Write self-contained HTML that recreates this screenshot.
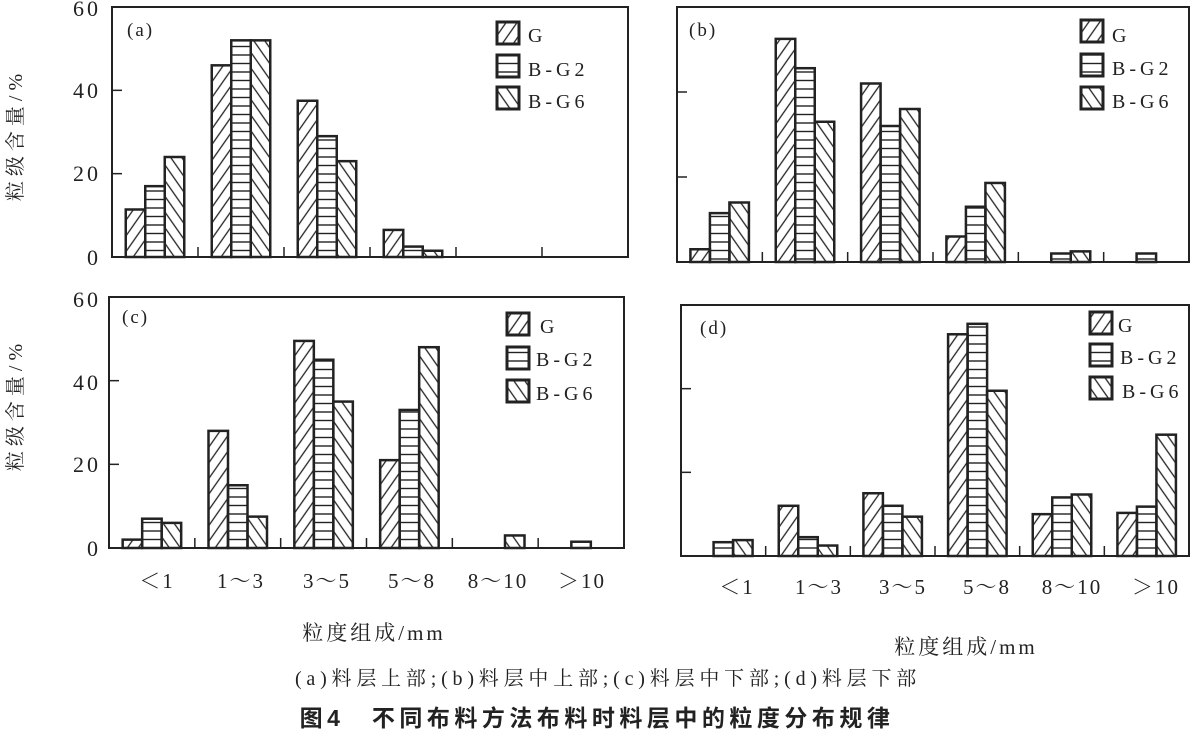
<!DOCTYPE html>
<html><head><meta charset="utf-8">
<style>
html,body{margin:0;padding:0;background:#fff;}
svg{display:block}
text{font-family:"Liberation Serif","Noto Serif CJK SC",serif;fill:#222}
.cj{font-family:"Liberation Serif","Noto Serif CJK SC","Noto Sans CJK SC",serif}
</style></head>
<body>
<svg id="s" width="1200" height="736" viewBox="0 0 1200 736" xmlns="http://www.w3.org/2000/svg">
<defs>
<pattern id="pf" patternUnits="userSpaceOnUse" width="9" height="9" patternTransform="rotate(-55)">
<line x1="0" y1="4.5" x2="9" y2="4.5" stroke="#222" stroke-width="1.3"/></pattern>
<pattern id="pb" patternUnits="userSpaceOnUse" width="9" height="9" patternTransform="rotate(55)">
<line x1="0" y1="4.5" x2="9" y2="4.5" stroke="#222" stroke-width="1.3"/></pattern>
<pattern id="ph" patternUnits="userSpaceOnUse" width="8" height="8.5">
<line x1="0" y1="4" x2="8" y2="4" stroke="#222" stroke-width="1.4"/></pattern>
</defs>
<g id="g"></g>
<g font-size="22" text-anchor="end" letter-spacing="3">
<text x="101" y="16">60</text><text x="101" y="98">40</text><text x="101" y="181">20</text><text x="101" y="265">0</text>
<text x="101" y="307">60</text><text x="101" y="390">40</text><text x="101" y="472">20</text><text x="101" y="556">0</text>
</g>
<text class="cj" font-size="20" letter-spacing="5" transform="translate(22,135) rotate(-90)" text-anchor="middle">粒级含量/%</text>
<text class="cj" font-size="20" letter-spacing="5" transform="translate(22,405) rotate(-90)" text-anchor="middle">粒级含量/%</text>
<g font-size="19" letter-spacing="2">
<text x="127" y="36">(a)</text><text x="689" y="36">(b)</text>
<text x="122" y="323">(c)</text><text x="700" y="334">(d)</text>
</g>
<g font-size="20" letter-spacing="4">
<text x="528" y="42">G</text><text x="528" y="76">B-G2</text><text x="528" y="108">B-G6</text>
<text x="1112" y="42">G</text><text x="1112" y="75">B-G2</text><text x="1112" y="108">B-G6</text>
<text x="540" y="333">G</text><text x="536" y="366">B-G2</text><text x="536" y="400">B-G6</text>
<text x="1118" y="332">G</text><text x="1120" y="364">B-G2</text><text x="1122" y="398">B-G6</text>
</g>
<g class="cj" font-size="21" text-anchor="middle" letter-spacing="2">
<text x="157" y="588">＜1</text><text x="241" y="588">1～3</text><text x="327" y="588">3～5</text><text x="412" y="588">5～8</text><text x="498" y="588">8～10</text><text x="582" y="588">＞10</text>
<text x="737" y="594">＜1</text><text x="819" y="594">1～3</text><text x="903" y="594">3～5</text><text x="987" y="594">5～8</text><text x="1072" y="594">8～10</text><text x="1156" y="594">＞10</text>
</g>
<text class="cj" x="374" y="640" font-size="21" letter-spacing="3" text-anchor="middle">粒度组成/mm</text>
<text class="cj" x="966" y="654" font-size="21" letter-spacing="3" text-anchor="middle">粒度组成/mm</text>
<text class="cj" x="608" y="685" font-size="20" letter-spacing="4.8" text-anchor="middle">(a)料层上部;(b)料层中上部;(c)料层中下部;(d)料层下部</text>
<text x="597" y="726" font-size="23" font-weight="bold" letter-spacing="4.5" text-anchor="middle" style="font-family:'Liberation Sans','Noto Sans CJK SC',sans-serif">图4　不同布料方法布料时料层中的粒度分布规律</text>
</svg>
<script>
var NS="http://www.w3.org/2000/svg",g=document.getElementById("g");
function el(t,a){var e=document.createElementNS(NS,t);for(var k in a)e.setAttribute(k,a[k]);g.appendChild(e);return e;}
var P=[
 {x0:112,x1:628,z:257,t:7,d:[[11.4,17,24],[46,52,52],[37.5,29,23],[6.5,2.5,1.5],[0,0,0],[0,0,0]],L:[497,22,55,87]},
 {x0:677,x1:1189,z:262,t:7,d:[[3,11.5,14],[52.5,45.6,33],[42,32,36],[6,13,18.6],[0,2,2.5],[0,2,0]],L:[1081,20,54,87]},
 {x0:109,x1:624,z:548,t:297,d:[[2,7,6],[28,15,7.5],[49.5,45,35],[21,33,48],[0,0,3],[0,1.5,0]],L:[507,313,347,380]},
 {x0:681,x1:1189,z:556,t:305,d:[[0,3.3,3.8],[12,4.5,2.5],[15,12,9.4],[53,55.5,39.5],[10,14,14.7],[10.3,11.8,29]],L:[1090,312,344,377]}
];
var F=["url(#pf)","url(#ph)","url(#pb)"];
P.forEach(function(p){
 var w=(p.x1-p.x0)/6,s=(p.z-p.t)/60,bw=19.5;
 el("rect",{x:p.x0,y:p.t,width:p.x1-p.x0,height:p.z-p.t,fill:"none",stroke:"#222","stroke-width":2});
 for(var k=1;k<6;k++){var x=p.x0+k*w;el("line",{x1:x,y1:p.z,x2:x,y2:p.z-10,stroke:"#222","stroke-width":1.5});}
 [20,40].forEach(function(v){var y=p.z-v*s;el("line",{x1:p.x0,y1:y,x2:p.x0+10,y2:y,stroke:"#222","stroke-width":1.5});});
 p.d.forEach(function(c,i){var cx=p.x0+(i+0.5)*w;c.forEach(function(v,j){if(v<=0)return;var h=v*s;
  el("rect",{x:cx-1.5*bw+j*bw,y:p.z-h,width:bw,height:h,fill:F[j],stroke:"#222","stroke-width":2.5});});});
 for(var j=0;j<3;j++)el("rect",{x:p.L[0],y:p.L[j+1],width:22,height:22,fill:F[j],stroke:"#222","stroke-width":3});
});
</script>
</body></html>
